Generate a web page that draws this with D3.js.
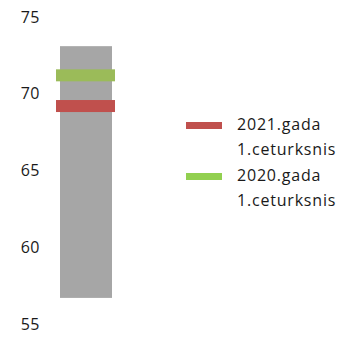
<!DOCTYPE html>
<html>
<head>
<meta charset="utf-8">
<script src="https://cdn.jsdelivr.net/npm/d3@7"></script>
<style>
  html, body { margin: 0; padding: 0; background: #fff; }
  svg { display: block; font-family: "Open Sans", "DejaVu Sans", sans-serif; }
</style>
</head>
<body>
<svg id="chart" width="348" height="339"></svg>
<script>
// Range of the indicator and the two quarterly values
const categories = ["1.ceturksnis"];
const rangeLow = [56.7];
const rangeHigh = [73.1];
const value2021 = [69.2];
const value2020 = [71.2];
const yTicks = [55, 60, 65, 70, 75];
const seriesNames = [["2021.gada", "1.ceturksnis"], ["2020.gada", "1.ceturksnis"]];
const markerColors = ["#c0504d", "#9bbb59"];
const legendColors = ["#c0504d", "#92d050"];

const svg = d3.select("#chart");

const y = d3.scaleLinear().domain([55, 75]).range([324, 17]);
const x = d3.scaleBand().domain(categories).range([56, 115]);

// Y axis labels only (no axis line or tick marks)
const yAxis = d3.axisLeft(y).tickValues(yTicks).tickSize(0).tickPadding(0);
const axisG = svg.append("g").attr("transform", "translate(40,0)").call(yAxis);
axisG.select(".domain").remove();
axisG.selectAll("text")
  .attr("font-family", "'Open Sans', sans-serif")
  .attr("font-size", 16)
  .attr("letter-spacing", 0.5)
  .attr("fill", "#1a1a1a");

// Grey range bar
svg.selectAll("rect.range")
  .data(categories)
  .join("rect")
  .attr("class", "range")
  .attr("x", d => x(d) + 4)
  .attr("width", x.bandwidth() - 7)
  .attr("y", (d, i) => y(rangeHigh[i]))
  .attr("height", (d, i) => y(rangeLow[i]) - y(rangeHigh[i]))
  .attr("fill", "#a6a6a6");

// Quarter markers drawn across the bar
const markerH = 12;
[value2021, value2020].forEach((vals, s) => {
  svg.selectAll("rect.m" + s)
    .data(categories)
    .join("rect")
    .attr("class", "m" + s)
    .attr("x", d => x(d))
    .attr("width", x.bandwidth())
    .attr("y", (d, i) => y(vals[i]) - markerH / 2)
    .attr("height", markerH)
    .attr("fill", markerColors[s]);
});

// Legend
const legend = svg.append("g").attr("transform", "translate(186,0)");
const rowTop = [130, 181];
seriesNames.forEach((lines, i) => {
  legend.append("rect")
    .attr("x", 0)
    .attr("y", rowTop[i] - 8)
    .attr("width", 36)
    .attr("height", 7)
    .attr("fill", legendColors[i]);
  const t = legend.append("text")
    .attr("x", 51)
    .attr("y", rowTop[i])
    .attr("font-size", 16)
    .attr("letter-spacing", 0.8)
    .attr("fill", "#1a1a1a");
  lines.forEach((ln, j) => {
    t.append("tspan").attr("x", 51).attr("dy", j === 0 ? 0 : 25).text(ln);
  });
});
</script>
</body>
</html>
